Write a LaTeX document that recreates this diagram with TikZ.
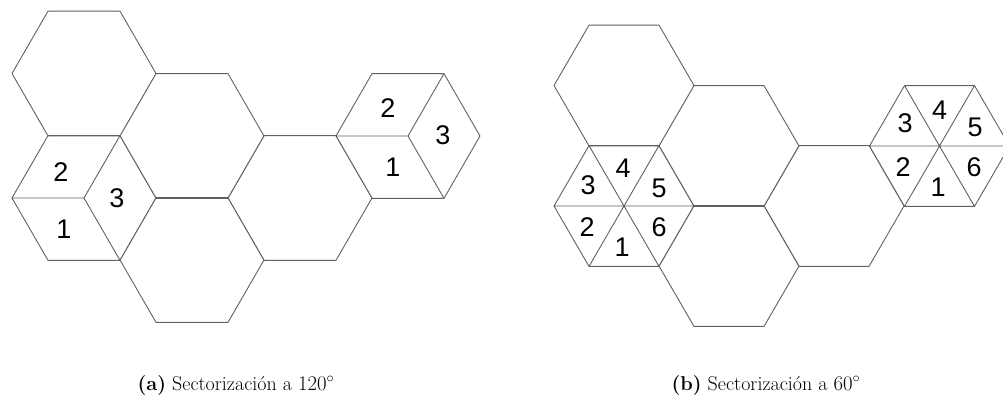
\documentclass[tikz,border=0pt]{standalone}
\usepackage{fontspec}
\newfontfamily\digitfont{Liberation Sans}
\begin{document}
\begin{tikzpicture}[x=1pt,y=-1pt,
  cell/.style={draw=black!62,line width=0.9pt,line join=round},
  num/.style={font=\digitfont\fontsize{27}{27}\selectfont,inner sep=0pt},
  caption/.style={font=\fontsize{20}{24}\selectfont,inner sep=0pt,anchor=base}]
\useasboundingbox (0,0) rectangle (1003,407);
\clip (0,0) rectangle (1003,407);

% ---- (a) sectorisation at 120 degrees: cells of radius 72 ----
\draw[cell]
  \foreach \cx/\cy in {84/73.5, 84/198, 192/136, 192/260, 300/198, 408/136} {
    (\cx+72,\cy) -- ++(-36,62.35) -- ++(-72,0) -- ++(-36,-62.35)
      -- ++(36,-62.35) -- ++(72,0) -- cycle
  }
  % three 120-degree sectors in two of the cells
  \foreach \cx/\cy in {84/198, 408/136} {
    (\cx-72,\cy) -- (\cx,\cy) -- ++(36,-62.35)
    (\cx,\cy) -- ++(36,62.35)
  };

\node[num] (la2) at (61,172) {2};
\node[num] (la1) at (64,229) {1};
\node[num] (la3) at (117,198) {3};
\node[num] (ra2) at (388,108) {2};
\node[num] (ra1) at (393,167) {1};
\node[num] (ra3) at (443,135) {3};

% ---- (b) sectorisation at 60 degrees: cells of radius 70 ----
\draw[cell]
  \foreach \cx/\cy in {624/85.5, 624/206, 729/146, 729/266, 834/206, 939.5/146} {
    (\cx+70,\cy) -- ++(-35,60.4) -- ++(-70,0) -- ++(-35,-60.4)
      -- ++(35,-60.4) -- ++(70,0) -- cycle
  }
  % six 60-degree sectors in two of the cells
  \foreach \cx/\cy in {624/206, 939.5/146} {
    (\cx-70,\cy) -- ++(140,0)
    (\cx-35,\cy-60.4) -- ++(70,120.8)
    (\cx+35,\cy-60.4) -- ++(-70,120.8)
  };

\node[num] (lb1) at (622,247) {1};
\node[num] (lb2) at (587,227) {2};
\node[num] (lb3) at (588,185) {3};
\node[num] (lb4) at (623,168) {4};
\node[num] (lb5) at (659,188) {5};
\node[num] (lb6) at (659,227) {6};
\node[num] (rb1) at (938,187) {1};
\node[num] (rb2) at (903,167) {2};
\node[num] (rb3) at (905,123) {3};
\node[num] (rb4) at (939.5,110) {4};
\node[num] (rb5) at (975,127) {5};
\node[num] (rb6) at (974,167) {6};

% ---- captions ----
\node[caption] (capa) at (236,390) {\textbf{(a)} Sectorización a $120^{\circ}$};
\node[caption] (capb) at (766,390) {\textbf{(b)} Sectorización a $60^{\circ}$};
\end{tikzpicture}
\end{document}
